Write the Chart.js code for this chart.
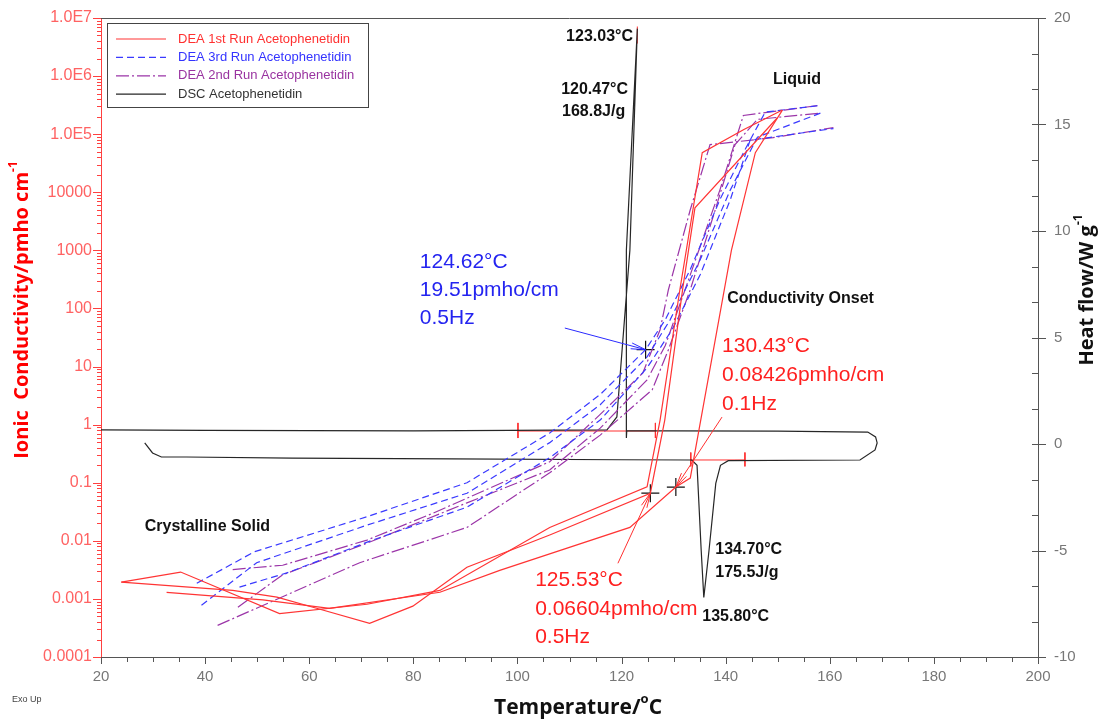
<!DOCTYPE html>
<html>
<head>
<meta charset="utf-8">
<script src="https://cdn.jsdelivr.net/npm/chart.js@4.4.1/dist/chart.umd.min.js"></script>
<style>
  html, body { margin: 0; padding: 0; background: #fff; }
  canvas { display: block; }
</style>
</head>
<body>
<canvas id="c" width="1108" height="721"></canvas>
<script>
// DEA / DSC overlay for acetophenetidin
// conductivity curves: [temperature °C, pmho/cm]
const RUN1_A = [[23.9, 1.95e-3], [35.3, 2.9e-3], [54.3, 5.6e-4], [71.1, 8.1e-4], [85.1, 1.4e-3], [106.2, 1.7e-2],
  [124.9, 8.5e-2], [127.4, 1.2], [131.2, 210], [135.5, 4.8e4], [143.5, 1.2e5], [150.9, 2.6e5]];
const RUN1_B = [[23.9, 1.95e-3], [45.3, 1.4e-3], [53.8, 1.07e-3], [61.4, 6.9e-4], [71.6, 3.8e-4], [79.9, 7.5e-4],
  [90.3, 3.5e-3], [106.2, 1.26e-2], [125.53, 6.604e-2], [128.3, 1.2], [131.8, 235], [134.1, 5400], [149.9, 1.9e5]];
const RUN1_C = [[32.6, 1.3e-3], [51.1, 9.6e-4], [63.9, 6.9e-4], [85.1, 1.3e-3], [96.6, 3.1e-3], [121.6, 1.7e-2],
  [130.43, 8.426e-2], [133.2, 0.12], [141.1, 1000], [145.7, 4.8e4], [150.9, 2.6e5]];

const RUN3_A = [[38.4, 1.86e-3], [49.5, 6.5e-3], [71.1, 2.6e-2], [90.3, 0.10], [106.2, 0.72], [115.9, 3.3],
  [124.62, 19.51], [128.4, 64], [133.2, 470], [138.9, 7500], [143.7, 5.4e4], [147.6, 2.4e5], [157.8, 3.1e5]];
const RUN3_B = [[39.3, 7.8e-4], [49.9, 4.2e-3], [71.1, 1.86e-2], [90.3, 6.6e-2], [106.2, 0.49], [115.9, 2.2],
  [124.9, 14.7], [129.3, 63], [135.1, 690], [140.9, 1.1e4], [146.1, 8.9e4], [158.2, 2.3e5]];
const RUN3_C = [[46.6, 1.6e-3], [55.7, 2.8e-3], [72.2, 1.03e-2], [90.3, 3.8e-2], [106.2, 0.27], [115.9, 1.2],
  [124.9, 9.5], [129.7, 43], [135.1, 380], [140.9, 7500], [144.7, 7.9e4], [160.7, 1.25e5]];

const RUN2_A = [[45.3, 3.2e-3], [54.9, 3.8e-3], [71.1, 1.03e-2], [83.8, 3.0e-2], [106.2, 0.23], [115.9, 1.5],
  [124.1, 7.8], [127.4, 43], [129.0, 210], [133.2, 5000], [137.0, 6.6e4], [149.1, 8.7e4], [160.7, 1.3e5]];
const RUN2_B = [[46.3, 7.2e-4], [54.9, 2.6e-3], [71.1, 9.1e-3], [90.3, 4.5e-2], [106.2, 0.166], [115.9, 0.87],
  [124.9, 5.9], [128.4, 23], [132.2, 210], [138.9, 1.1e4], [143.4, 2.1e5], [157.6, 3.1e5]];
const RUN2_C = [[42.4, 3.5e-4], [69.7, 4.2e-3], [90.3, 1.7e-2], [106.2, 0.148], [115.9, 0.66], [125.9, 4.0],
  [129.0, 19.5], [133.2, 210], [138.0, 5000], [141.8, 6.6e4], [146.1, 1.8e5], [158.2, 2.3e5]];

// DSC heat flow: [temperature °C, W/g], heat then cool
const DSC = [[28.4, 0.05], [29.9, -0.42], [31.6, -0.61], [36.4, -0.61], [56.7, -0.66], [87.4, -0.70], [120, -0.74],
  [133.5, -0.75], [134.5, -1.0], [135.3, -5.0], [135.8, -7.2], [136.8, -5.0], [138.1, -1.85], [139.0, -1.0],
  [140.5, -0.78], [165.8, -0.75], [168.7, -0.28], [169.1, 0.05], [168.8, 0.33], [167.3, 0.56], [150, 0.6],
  [130, 0.62], [121.0, 0.62], [120.9, 0.28], [120.95, 9.1], [123.03, 19.5], [121.6, 9.1], [120.1, 4.4],
  [119.1, 1.27], [117.2, 0.66], [80, 0.62], [40, 0.64], [20, 0.66]];
// integration limits drawn in red on the DSC trace
const DSC_LIMITS = [
  [[100.1, 0.61], [126.5, 0.61]], [[100.1, 0.99], [100.1, 0.28]], [[126.5, 0.99], [126.5, 0.28]],
  [[133.3, -0.75], [143.7, -0.75]], [[133.3, -0.4], [133.3, -1.05]], [[143.7, -0.4], [143.7, -1.05]],
  [[123.03, 18.8], [123.03, 19.6]]
];
// picked onset points
const ONSETS = [[124.62, 19.51], [125.53, 0.06604], [130.43, 0.08426]];

const X_TICKS = [20, 40, 60, 80, 100, 120, 140, 160, 180, 200];
const Y_TICKS = [1e-4, 1e-3, 1e-2, 0.1, 1, 10, 100, 1000, 1e4, 1e5, 1e6, 1e7];
const Y_LABELS = ['0.0001', '0.001', '0.01', '0.1', '1', '10', '100', '1000', '10000', '1.0E5', '1.0E6', '1.0E7'];
const Y2_TICKS = [-10, -5, 0, 5, 10, 15, 20];

const RED = '#ff3434', BLUE = '#3a3aff', PURPLE = '#9b35a8', BLACK = '#262626';
const groups = [
  { label: 'DEA 1st Run Acetophenetidin', color: RED, text: '#ff3030', dash: [], curves: [RUN1_A, RUN1_B, RUN1_C], axis: 'y' },
  { label: 'DEA 3rd Run Acetophenetidin', color: BLUE, text: '#3333ff', dash: [7, 4], curves: [RUN3_A, RUN3_B, RUN3_C], axis: 'y' },
  { label: 'DEA 2nd Run Acetophenetidin', color: PURPLE, text: '#9933a0', dash: [13, 3, 2, 3], curves: [RUN2_A, RUN2_B, RUN2_C], axis: 'y' },
  { label: 'DSC Acetophenetidin', color: BLACK, text: '#333', dash: [], curves: [DSC], axis: 'y2' },
];

const pts = (arr) => arr.map(([x, y]) => ({ x, y }));
const datasets = [];
groups.forEach((g) => g.curves.forEach((c) => datasets.push({
  data: pts(c), yAxisID: g.axis, showLine: true, borderColor: g.color, borderWidth: 1.2,
  borderDash: g.dash, pointRadius: 0, tension: 0, fill: false,
})));
DSC_LIMITS.forEach((seg) => datasets.push({
  data: pts(seg), yAxisID: 'y2', showLine: true, borderColor: '#ff3030', borderWidth: 1, pointRadius: 0,
}));
datasets.push({
  data: pts(ONSETS), yAxisID: 'y', showLine: false, pointStyle: 'cross', pointRadius: 9,
  borderColor: '#111', borderWidth: 1.2,
});

const SANS = '"Liberation Sans", Arial, sans-serif';
const TITLE = '"Open Sans", "DejaVu Sans", sans-serif';
const BIG = '21px ' + SANS;
const LBL = 'bold 16px ' + SANS;

// text and arrows, anchored to temperature / heat-flow values
const notes = [
  { t: '123.03°C', x: 122.2, y: 19.11, c: '#111', f: LBL, a: 'right' },
  { t: '120.47°C', x: 121.25, y: 16.62, c: '#111', f: LBL, a: 'right' },
  { t: '168.8J/g', x: 120.7, y: 15.59, c: '#111', f: LBL, a: 'right' },
  { t: 'Liquid', x: 149.1, y: 17.09, c: '#111', f: LBL },
  { t: '124.62°C', x: 81.25, y: 8.54, c: '#2424f0', f: BIG },
  { t: '19.51pmho/cm', x: 81.25, y: 7.23, c: '#2424f0', f: BIG },
  { t: '0.5Hz', x: 81.25, y: 5.92, c: '#2424f0', f: BIG },
  { t: 'Conductivity Onset', x: 140.3, y: 6.85, c: '#111', f: LBL },
  { t: '130.43°C', x: 139.3, y: 4.60, c: '#ff2020', f: BIG },
  { t: '0.08426pmho/cm', x: 139.3, y: 3.24, c: '#ff2020', f: BIG },
  { t: '0.1Hz', x: 139.3, y: 1.88, c: '#ff2020', f: BIG },
  { t: '125.53°C', x: 103.4, y: -6.38, c: '#ff2020', f: BIG },
  { t: '0.06604pmho/cm', x: 103.4, y: -7.75, c: '#ff2020', f: BIG },
  { t: '0.5Hz', x: 103.4, y: -9.06, c: '#ff2020', f: BIG },
  { t: '134.70°C', x: 138.0, y: -4.98, c: '#111', f: LBL },
  { t: '175.5J/g', x: 138.0, y: -6.06, c: '#111', f: LBL },
  { t: '135.80°C', x: 135.5, y: -8.08, c: '#111', f: LBL },
  { t: 'Crystalline Solid', x: 28.4, y: -3.90, c: '#111', f: LBL },
];
const arrows = [
  { from: [109.1, 46], to: [124.62, 19.51], c: '#2a2aff' },
  { from: [139.3, 1.35], to: [130.43, 0.08426], c: '#ff3030' },
  { from: [119.3, 0.0041], to: [125.53, 0.06604], c: '#ff3030' },
];

function richText(ctx, parts, size, font, color) {
  // parts: [text, isSuperscript]
  const fnt = (sup) => 'bold ' + (sup ? Math.round(size * 0.62) : size) + 'px ' + font;
  let w = 0;
  parts.forEach(([t, sup]) => { ctx.font = fnt(sup); w += ctx.measureText(t).width; });
  let x = -w / 2;
  ctx.fillStyle = color;
  ctx.textBaseline = 'middle';
  ctx.textAlign = 'left';
  parts.forEach(([t, sup]) => {
    ctx.font = fnt(sup);
    ctx.fillText(t, x, sup ? -size * 0.42 : 0);
    x += ctx.measureText(t).width;
  });
}

const decor = {
  id: 'decor',
  afterDraw(chart) {
    const { ctx, chartArea: ca, scales } = chart;
    const sx = scales.x, sy = scales.y, s2 = scales.y2;
    ctx.save();
    // frame top
    ctx.strokeStyle = '#555';
    ctx.lineWidth = 1;
    ctx.beginPath(); ctx.moveTo(ca.left, ca.top + 0.5); ctx.lineTo(ca.right, ca.top + 0.5); ctx.stroke();

    // x ticks every 5
    ctx.beginPath();
    for (let v = 20; v <= 200; v += 5) {
      const p = Math.round(sx.getPixelForValue(v)) + 0.5;
      ctx.moveTo(p, ca.bottom); ctx.lineTo(p, ca.bottom + (v % 20 === 0 ? 7 : 5));
    }
    ctx.stroke();
    // y2 ticks
    ctx.beginPath();
    for (let i = 0; i <= 18; i++) {
      const v = -10 + i * 5 / 3;
      const p = Math.round(s2.getPixelForValue(v)) + 0.5;
      const major = i % 3 === 0;
      ctx.moveTo(ca.right - 6, p); ctx.lineTo(ca.right + (major ? 8 : 0), p);
    }
    ctx.stroke();
    // log ticks
    ctx.strokeStyle = '#ff4040';
    ctx.beginPath();
    Y_TICKS.forEach((d, i) => {
      for (let m = 1; m <= 9; m++) {
        if (i === Y_TICKS.length - 1 && m > 1) break;
        const p = Math.round(sy.getPixelForValue(d * m)) + 0.5;
        ctx.moveTo(ca.left, p); ctx.lineTo(ca.left - (m === 1 ? 8 : 4), p);
      }
    });
    ctx.stroke();

    // annotations
    notes.forEach((n) => {
      ctx.font = n.f; ctx.fillStyle = n.c;
      ctx.textAlign = n.a || 'left'; ctx.textBaseline = 'middle';
      ctx.fillText(n.t, sx.getPixelForValue(n.x), s2.getPixelForValue(n.y));
    });
    arrows.forEach((a) => {
      const x0 = sx.getPixelForValue(a.from[0]), y0 = sy.getPixelForValue(a.from[1]);
      const x1 = sx.getPixelForValue(a.to[0]), y1 = sy.getPixelForValue(a.to[1]);
      const ang = Math.atan2(y1 - y0, x1 - x0);
      ctx.strokeStyle = a.c; ctx.lineWidth = 1;
      ctx.beginPath();
      ctx.moveTo(x0, y0); ctx.lineTo(x1, y1);
      [0.2, -0.2].forEach((d) => {
        ctx.moveTo(x1, y1);
        ctx.lineTo(x1 - 15 * Math.cos(ang + d), y1 - 15 * Math.sin(ang + d));
      });
      ctx.stroke();
    });

    // legend box
    ctx.fillStyle = '#fff';
    ctx.fillRect(107.5, 23.5, 261, 84);
    ctx.strokeStyle = '#444'; ctx.lineWidth = 1;
    ctx.strokeRect(107.5, 23.5, 261, 84);
    groups.forEach((g, i) => {
      const y = 39 + i * 18.4;
      ctx.strokeStyle = g.color; ctx.lineWidth = 1.2;
      ctx.setLineDash(g.dash);
      ctx.beginPath(); ctx.moveTo(116, y); ctx.lineTo(166, y); ctx.stroke();
      ctx.setLineDash([]);
      ctx.font = '13px ' + SANS; ctx.fillStyle = g.text;
      ctx.textAlign = 'left'; ctx.textBaseline = 'middle';
      ctx.fillText(g.label, 178, y);
    });

    // axis titles
    ctx.save(); ctx.translate(22, 310); ctx.rotate(-Math.PI / 2);
    richText(ctx, [['Ionic  Conductivity/pmho cm', false], ['-1', true]], 20, TITLE, '#ff0000');
    ctx.restore();
    ctx.save(); ctx.translate(1087, 290); ctx.rotate(-Math.PI / 2);
    richText(ctx, [['Heat flow/W g', false], ['-1', true]], 20, TITLE, '#111');
    ctx.restore();
    ctx.save(); ctx.translate(578, 708);
    richText(ctx, [['Temperature/', false], ['o', true], ['C', false]], 21, TITLE, '#111');
    ctx.restore();

    ctx.font = '9px ' + SANS; ctx.fillStyle = '#444';
    ctx.textAlign = 'left'; ctx.textBaseline = 'middle';
    ctx.fillText('Exo Up', 12, 700);
    ctx.restore();
  },
};

const noVPad = (w) => (s) => { s.width = w; s.paddingTop = 0; s.paddingBottom = 0; };

new Chart(document.getElementById('c'), {
  type: 'scatter',
  data: { datasets },
  options: {
    responsive: false,
    animation: false,
    layout: { padding: { top: 18, left: 0, right: 0, bottom: 0 } },
    plugins: { legend: { display: false }, tooltip: { enabled: false } },
    scales: {
      x: {
        type: 'linear', position: 'bottom', min: 20, max: 200,
        afterBuildTicks: (s) => { s.ticks = X_TICKS.map((v) => ({ value: v })); },
        afterFit: (s) => { s.height = 64; s.paddingLeft = 0; s.paddingRight = 0; },
        grid: { display: false, drawTicks: false },
        border: { color: '#555' },
        ticks: { color: '#777', padding: 11, maxRotation: 0, font: { family: SANS, size: 15 } },
      },
      y: {
        type: 'logarithmic', position: 'left', min: 1e-4, max: 1e7,
        afterBuildTicks: (s) => { s.ticks = Y_TICKS.map((v) => ({ value: v })); },
        afterFit: noVPad(101),
        grid: { display: false, drawTicks: false },
        border: { color: '#ff4040' },
        ticks: {
          color: '#ff6262', padding: 9, autoSkip: false, font: { family: SANS, size: 16 },
          callback: (v, i) => Y_LABELS[i],
        },
      },
      y2: {
        type: 'linear', position: 'right', min: -10, max: 20,
        afterBuildTicks: (s) => { s.ticks = Y2_TICKS.map((v) => ({ value: v })); },
        afterFit: noVPad(70),
        grid: { display: false, drawTicks: false },
        border: { color: '#555' },
        ticks: { color: '#777', padding: 16, font: { family: SANS, size: 15 } },
      },
    },
  },
  plugins: [decor],
});
</script>
</body>
</html>
